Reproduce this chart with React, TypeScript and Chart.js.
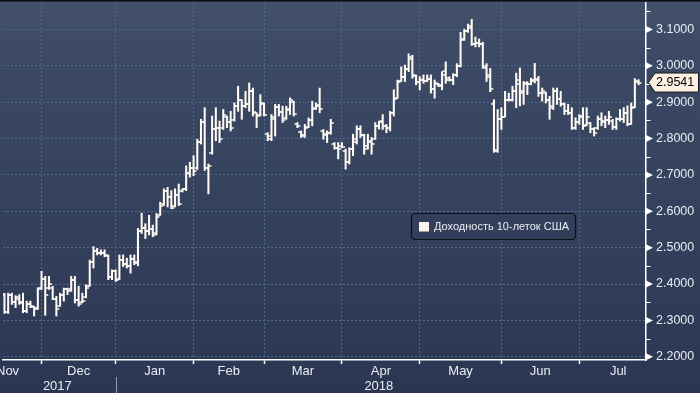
import React, { useEffect, useRef } from 'react';
import { Chart, registerables } from 'chart.js';

Chart.register(...registerables);

// ---------------- data ----------------
const seriesLabel = 'Доходность 10-леток США';

// daily OHLC of the US 10Y yield, mid-Nov 2017 .. 24 Jul 2018 (one value per trading day)
const opens = [
  2.340, 2.372, 2.322, 2.370, 2.350, 2.360, 2.350, 2.325, 2.345, 2.338,
  2.335, 2.390, 2.415, 2.390, 2.390, 2.360, 2.340, 2.370, 2.385, 2.385,
  2.410, 2.355, 2.350, 2.365, 2.395, 2.460, 2.490, 2.485, 2.485, 2.478,
  2.420, 2.435, 2.415, 2.465, 2.455, 2.450, 2.470, 2.460, 2.545, 2.555,
  2.545, 2.550, 2.540, 2.590, 2.620, 2.655, 2.640, 2.615, 2.645, 2.655,
  2.660, 2.705, 2.720, 2.720, 2.790, 2.845, 2.720, 2.760, 2.825, 2.830,
  2.830, 2.860, 2.845, 2.850, 2.890, 2.905, 2.890, 2.895, 2.930, 2.870,
  2.865, 2.895, 2.812, 2.800, 2.855, 2.887, 2.872, 2.856, 2.878, 2.900,
  2.840, 2.818, 2.810, 2.832, 2.850, 2.885, 2.890, 2.820, 2.812, 2.815,
  2.786, 2.775, 2.780, 2.765, 2.735, 2.770, 2.790, 2.825, 2.810, 2.780,
  2.792, 2.800, 2.835, 2.848, 2.835, 2.830, 2.870, 2.912, 2.957, 2.970,
  2.990, 3.020, 2.972, 2.955, 2.960, 2.958, 2.965, 2.935, 2.950, 2.945,
  2.985, 2.966, 2.960, 2.975, 3.000, 3.075, 3.095, 3.110, 3.060, 3.062,
  3.060, 2.995, 2.975, 2.895, 2.765, 2.855, 2.860, 2.905, 2.906, 2.930,
  2.950, 2.930, 2.952, 2.950, 2.960, 2.960, 2.925, 2.925, 2.905, 2.885,
  2.930, 2.910, 2.895, 2.875, 2.870, 2.830, 2.845, 2.860, 2.838, 2.842,
  2.825, 2.828, 2.855, 2.845, 2.852, 2.848, 2.832, 2.855, 2.855, 2.870,
  2.840, 2.888, 2.955,
];
const highs = [
  2.375, 2.374, 2.375, 2.375, 2.368, 2.371, 2.375, 2.353, 2.353, 2.339,
  2.390, 2.435, 2.421, 2.421, 2.394, 2.366, 2.375, 2.389, 2.389, 2.421,
  2.421, 2.394, 2.375, 2.398, 2.466, 2.503, 2.498, 2.494, 2.494, 2.480,
  2.439, 2.439, 2.480, 2.480, 2.471, 2.480, 2.480, 2.553, 2.595, 2.566,
  2.589, 2.562, 2.594, 2.625, 2.662, 2.666, 2.657, 2.662, 2.675, 2.662,
  2.725, 2.735, 2.753, 2.798, 2.853, 2.885, 2.730, 2.862, 2.885, 2.848,
  2.880, 2.862, 2.875, 2.898, 2.944, 2.907, 2.930, 2.953, 2.939, 2.871,
  2.921, 2.898, 2.816, 2.866, 2.894, 2.894, 2.889, 2.889, 2.912, 2.903,
  2.844, 2.821, 2.839, 2.857, 2.903, 2.898, 2.939, 2.825, 2.821, 2.853,
  2.789, 2.789, 2.789, 2.771, 2.775, 2.812, 2.835, 2.835, 2.812, 2.812,
  2.803, 2.844, 2.848, 2.866, 2.839, 2.875, 2.934, 2.961, 2.997, 3.002,
  3.033, 3.029, 2.975, 2.970, 2.975, 2.975, 2.975, 2.961, 2.952, 2.984,
  3.011, 2.970, 2.979, 3.006, 3.092, 3.101, 3.115, 3.128, 3.079, 3.074,
  3.065, 3.006, 2.993, 2.907, 2.880, 2.885, 2.930, 2.925, 2.944, 2.980,
  2.994, 2.957, 2.957, 2.966, 3.007, 2.971, 2.939, 2.928, 2.916, 2.939,
  2.939, 2.930, 2.898, 2.894, 2.885, 2.857, 2.866, 2.885, 2.885, 2.844,
  2.830, 2.862, 2.871, 2.862, 2.875, 2.853, 2.857, 2.880, 2.885, 2.890,
  2.898, 2.965, 2.962,
];
const lows = [
  2.330, 2.319, 2.319, 2.344, 2.335, 2.344, 2.321, 2.321, 2.335, 2.312,
  2.330, 2.385, 2.314, 2.385, 2.357, 2.312, 2.339, 2.353, 2.371, 2.380,
  2.348, 2.339, 2.348, 2.362, 2.394, 2.444, 2.480, 2.480, 2.475, 2.412,
  2.412, 2.407, 2.412, 2.448, 2.444, 2.430, 2.453, 2.450, 2.539, 2.525,
  2.535, 2.530, 2.535, 2.589, 2.616, 2.612, 2.607, 2.612, 2.616, 2.653,
  2.657, 2.694, 2.698, 2.715, 2.785, 2.712, 2.648, 2.757, 2.794, 2.789,
  2.825, 2.830, 2.821, 2.848, 2.875, 2.853, 2.885, 2.875, 2.862, 2.830,
  2.862, 2.862, 2.794, 2.794, 2.807, 2.862, 2.844, 2.853, 2.866, 2.862,
  2.830, 2.803, 2.803, 2.830, 2.835, 2.880, 2.871, 2.798, 2.789, 2.812,
  2.771, 2.744, 2.775, 2.716, 2.730, 2.753, 2.785, 2.803, 2.757, 2.771,
  2.757, 2.798, 2.826, 2.825, 2.816, 2.821, 2.862, 2.911, 2.957, 2.957,
  2.984, 2.966, 2.948, 2.934, 2.952, 2.957, 2.925, 2.911, 2.943, 2.934,
  2.952, 2.958, 2.948, 2.970, 2.997, 3.070, 3.092, 3.056, 3.052, 3.052,
  2.993, 2.957, 2.929, 2.762, 2.762, 2.825, 2.859, 2.903, 2.903, 2.885,
  2.890, 2.894, 2.921, 2.948, 2.953, 2.916, 2.903, 2.898, 2.853, 2.880,
  2.894, 2.889, 2.866, 2.866, 2.825, 2.825, 2.839, 2.825, 2.835, 2.816,
  2.807, 2.825, 2.835, 2.830, 2.839, 2.825, 2.825, 2.848, 2.844, 2.835,
  2.839, 2.885, 2.948,
];
const closes = [
  2.370, 2.322, 2.370, 2.350, 2.365, 2.348, 2.325, 2.345, 2.340, 2.330,
  2.385, 2.415, 2.370, 2.400, 2.360, 2.330, 2.370, 2.385, 2.380, 2.410,
  2.355, 2.345, 2.352, 2.390, 2.460, 2.490, 2.485, 2.485, 2.480, 2.420,
  2.435, 2.410, 2.465, 2.455, 2.450, 2.470, 2.458, 2.545, 2.555, 2.545,
  2.550, 2.535, 2.585, 2.615, 2.655, 2.640, 2.610, 2.645, 2.620, 2.660,
  2.705, 2.720, 2.710, 2.790, 2.845, 2.720, 2.725, 2.825, 2.830, 2.800,
  2.865, 2.845, 2.830, 2.890, 2.905, 2.890, 2.895, 2.930, 2.872, 2.862,
  2.898, 2.866, 2.807, 2.858, 2.888, 2.872, 2.850, 2.880, 2.905, 2.868,
  2.835, 2.808, 2.830, 2.852, 2.880, 2.892, 2.880, 2.810, 2.815, 2.842,
  2.775, 2.770, 2.778, 2.735, 2.770, 2.800, 2.825, 2.810, 2.770, 2.790,
  2.785, 2.835, 2.845, 2.835, 2.830, 2.870, 2.910, 2.955, 2.970, 2.990,
  3.025, 2.975, 2.955, 2.960, 2.958, 2.965, 2.935, 2.952, 2.948, 2.975,
  2.960, 2.962, 2.975, 3.000, 3.072, 3.095, 3.105, 3.060, 3.062, 3.060,
  3.000, 2.970, 2.935, 2.768, 2.855, 2.860, 2.905, 2.906, 2.930, 2.960,
  2.925, 2.950, 2.950, 2.957, 2.965, 2.925, 2.930, 2.905, 2.890, 2.930,
  2.910, 2.895, 2.875, 2.870, 2.830, 2.845, 2.862, 2.835, 2.860, 2.825,
  2.815, 2.855, 2.848, 2.852, 2.860, 2.832, 2.855, 2.855, 2.870, 2.840,
  2.885, 2.958, 2.9541,
];

// month axis: label k spans (monthEnds[k], monthEnds[k+1]] in trading-day index
const monthLabels = ['Nov', 'Dec', 'Jan', 'Feb', 'Mar', 'Apr', 'May', 'Jun', 'Jul'];
const monthEnds = [-10, 11, 31, 52, 71, 92, 113, 135, 156, 177];
const yearLabels = ['2017', '2018'];
const yearEnds = [-10, 31, 177];

// value axis ticks
const yTickFrom = 2.2;
const yTickTo = 3.15;
const yMinorStep = 0.05;

// ---------------- styling ----------------
const FONT = "'Liberation Sans', Arial, sans-serif";
const BAR_COLOR = '#fffaf4';
const GRID_COLOR = '#4b6c8a';
const TEXT_COLOR = '#e9ecf2';
const X_MIN = 0.608;
const X_MAX = 174.0;
const Y_MIN = 2.1911;
const Y_MAX = 3.1728;

const isMajor = (v: number) => Math.abs(v * 10 - Math.round(v * 10)) < 1e-6;

function yTickValues(): number[] {
  const out: number[] = [];
  const n = Math.round((yTickTo - yTickFrom) / yMinorStep);
  for (let k = 0; k <= n; k++) out.push(Math.round((yTickFrom + k * yMinorStep) * 1000) / 1000);
  return out;
}

function makeTick(side: 'left' | 'right'): HTMLCanvasElement {
  const c = document.createElement('canvas');
  c.width = 8;
  c.height = 2;
  const g = c.getContext('2d')!;
  g.fillStyle = BAR_COLOR;
  if (side === 'left') g.fillRect(1, 0.25, 3, 1.5);
  else g.fillRect(4, 0.25, 3, 1.5);
  return c;
}

const backgroundPlugin = {
  id: 'bbgBackground',
  beforeDraw(chart: any) {
    const { ctx, width, height } = chart;
    ctx.save();
    const g = ctx.createLinearGradient(0, 0, 0, height);
    g.addColorStop(0, '#43516b');
    g.addColorStop(0.12, '#3d4a65');
    g.addColorStop(0.45, '#36435f');
    g.addColorStop(0.7, '#313d59');
    g.addColorStop(1, '#2b3652');
    ctx.fillStyle = g;
    ctx.fillRect(0, 0, width, height);
    ctx.fillStyle = '#0a0d13';
    ctx.fillRect(0, 0, width, 1.5);
    ctx.restore();
  },
};

const overlayPlugin = {
  id: 'bbgOverlay',
  afterDraw(chart: any) {
    const { ctx, chartArea, scales } = chart;
    const xs = scales.x;
    const ys = scales.y;
    const right = chartArea.right;
    const bottom = chartArea.bottom;
    ctx.save();

    // value-axis tick marks: triangles on majors, short dashes on minors
    ctx.fillStyle = '#ffffff';
    ctx.strokeStyle = '#ffffff';
    ctx.lineWidth = 1;
    for (const v of yTickValues()) {
      const py = ys.getPixelForValue(v);
      if (isMajor(v)) {
        ctx.beginPath();
        ctx.moveTo(right, py - 3.5);
        ctx.lineTo(right + 7, py);
        ctx.lineTo(right, py + 3.5);
        ctx.closePath();
        ctx.fill();
      } else {
        ctx.beginPath();
        ctx.moveTo(right, Math.round(py) + 0.5);
        ctx.lineTo(right + 4.5, Math.round(py) + 0.5);
        ctx.stroke();
      }
    }

    // month labels
    ctx.font = `13px ${FONT}`;
    ctx.fillStyle = TEXT_COLOR;
    ctx.textAlign = 'center';
    ctx.textBaseline = 'middle';
    for (let k = 0; k < monthLabels.length; k++) {
      const a = xs.getPixelForValue(monthEnds[k]);
      const b = xs.getPixelForValue(monthEnds[k + 1]);
      const w = ctx.measureText(monthLabels[k]).width;
      let c = (a + b) / 2;
      c = Math.max(c, w / 2 - 4);
      ctx.fillText(monthLabels[k], c, bottom + 11);
    }

    // year labels and separators
    for (let k = 0; k < yearLabels.length; k++) {
      const a = Math.max(chartArea.left, xs.getPixelForValue(yearEnds[k]));
      const b = Math.min(right, xs.getPixelForValue(yearEnds[k + 1]));
      ctx.fillText(yearLabels[k], (a + b) / 2 - 2, bottom + 26);
    }
    ctx.strokeStyle = '#939cae';
    ctx.lineWidth = 1;
    for (let k = 1; k < yearEnds.length - 1; k++) {
      const px = Math.round(xs.getPixelForValue(yearEnds[k])) + 0.5;
      ctx.beginPath();
      ctx.moveTo(px, bottom + 17);
      ctx.lineTo(px, chart.height);
      ctx.stroke();
    }

    // legend box
    const label = chart.data.datasets[0].label as string;
    ctx.font = `11px ${FONT}`;
    const tw = ctx.measureText(label).width;
    const bx = 411.5;
    const by = 213.5;
    const bw = tw + 29;
    const bh = 26;
    ctx.beginPath();
    ctx.roundRect(bx, by, bw, bh, 4);
    ctx.fillStyle = '#323e5a';
    ctx.fill();
    ctx.strokeStyle = '#0c0f16';
    ctx.lineWidth = 1.2;
    ctx.stroke();
    ctx.fillStyle = '#fff2ec';
    ctx.fillRect(bx + 7.5, by + 8.5, 10, 9.5);
    ctx.fillStyle = TEXT_COLOR;
    ctx.textAlign = 'left';
    ctx.textBaseline = 'middle';
    ctx.fillText(label, bx + 22.5, by + bh / 2 + 0.5);

    // last-value flag
    const last = closes[closes.length - 1];
    const py = ys.getPixelForValue(last);
    ctx.beginPath();
    ctx.moveTo(right + 2.5, py);
    ctx.lineTo(right + 9, py - 9.5);
    ctx.lineTo(698.5, py - 9.5);
    ctx.lineTo(698.5, py + 9.5);
    ctx.lineTo(right + 9, py + 9.5);
    ctx.closePath();
    ctx.fillStyle = '#fdf1e4';
    ctx.fill();
    ctx.strokeStyle = '#1b1b1b';
    ctx.lineWidth = 1;
    ctx.stroke();
    ctx.font = `12.5px ${FONT}`;
    ctx.fillStyle = '#000000';
    ctx.textAlign = 'left';
    ctx.textBaseline = 'middle';
    ctx.fillText(last.toFixed(4), right + 10, py + 0.5);

    ctx.restore();
  },
};

export default function App() {
  const canvasRef = useRef<HTMLCanvasElement | null>(null);

  useEffect(() => {
    const canvas = canvasRef.current;
    if (!canvas) return;
    const openImg = makeTick('left');
    const closeImg = makeTick('right');

    const chart = new Chart(canvas, {
      type: 'bar',
      data: {
        datasets: [
          {
            type: 'bar',
            label: seriesLabel,
            data: highs.map((h, i) => ({ x: i, y: [lows[i], h] })) as any,
            backgroundColor: BAR_COLOR,
            borderWidth: 0,
            barThickness: 1.4,
            grouped: false,
            order: 2,
          } as any,
          {
            type: 'scatter',
            label: 'open',
            data: opens.map((o, i) => ({ x: i, y: o })),
            pointStyle: openImg as any,
            pointRadius: 2,
            pointHoverRadius: 2,
            order: 1,
          } as any,
          {
            type: 'scatter',
            label: 'close',
            data: closes.map((c, i) => ({ x: i, y: c })),
            pointStyle: closeImg as any,
            pointRadius: 2,
            pointHoverRadius: 2,
            order: 1,
          } as any,
        ],
      },
      options: {
        animation: false,
        responsive: false,
        devicePixelRatio: 1,
        events: [],
        layout: { padding: 0 },
        plugins: {
          legend: { display: false },
          tooltip: { enabled: false },
        },
        scales: {
          x: {
            type: 'linear',
            min: X_MIN,
            max: X_MAX,
            offset: false,
            afterBuildTicks: (scale: any) => {
              scale.ticks = monthEnds
                .filter((v) => v >= X_MIN && v <= X_MAX)
                .map((v) => ({ value: v }));
            },
            afterFit: (scale: any) => {
              scale.height = 33;
              scale.paddingLeft = 0;
              scale.paddingRight = 0;
            },
            ticks: { display: false, autoSkip: false },
            grid: {
              offset: false,
              color: GRID_COLOR,
              lineWidth: 1,
              drawTicks: true,
              tickLength: 4,
              tickColor: '#ffffff',
              tickWidth: 1.5,
            },
            border: { display: true, color: '#ffffff', width: 1.5, dash: [2, 2] },
          },
          y: {
            type: 'linear',
            position: 'right',
            min: Y_MIN,
            max: Y_MAX,
            afterBuildTicks: (scale: any) => {
              scale.ticks = yTickValues().map((v) => ({ value: v }));
            },
            afterFit: (scale: any) => {
              scale.width = 54;
              scale.paddingTop = 0;
              scale.paddingBottom = 0;
            },
            ticks: {
              autoSkip: false,
              padding: 10,
              color: TEXT_COLOR,
              font: { family: FONT, size: 12.5 },
              callback: (v: any) => (isMajor(Number(v)) ? Number(v).toFixed(4) : ''),
            },
            grid: {
              drawTicks: false,
              lineWidth: 1,
              color: (c: any) => (c.tick && isMajor(c.tick.value) ? GRID_COLOR : 'rgba(0,0,0,0)'),
            },
            border: { display: true, color: '#ffffff', width: 1.5, dash: [2, 2] },
          },
        },
      } as any,
      plugins: [backgroundPlugin, overlayPlugin],
    });

    return () => chart.destroy();
  }, []);

  return (
    <div style={{ position: 'absolute', left: 0, top: 0, width: 700, height: 393 }}>
      <canvas ref={canvasRef} width={700} height={393} style={{ display: 'block', width: 700, height: 393 }} />
    </div>
  );
}
